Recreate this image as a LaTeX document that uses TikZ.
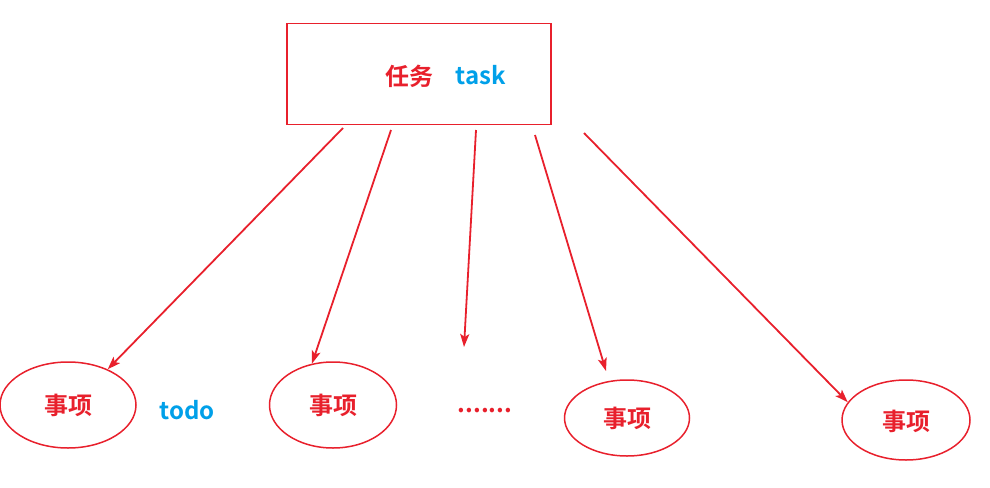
\documentclass[tikz,border=0pt]{standalone}
\usepackage{fontspec}
\newfontfamily\cjk{Noto Sans CJK SC Bold}
\usetikzlibrary{arrows.meta,positioning}
\usetikzlibrary{shapes.geometric}
\definecolor{itemred}{HTML}{E8202C}
\definecolor{tagblue}{HTML}{00A0E9}

\begin{document}
\begin{tikzpicture}[
      x=1pt,y=-1pt,
      taskbox/.style={
         rectangle,
         draw=itemred,
         line width=1.8pt,
         minimum width=264pt,
         minimum height=101pt,
         inner sep=0pt},
      itemnode/.style={
         ellipse,
         draw=itemred,
         line width=1.5pt,
         inner sep=0pt,
         text=itemred,
         font=\cjk\fontsize{24}{24}\selectfont},
      tagtext/.style={text=tagblue,font=\cjk\fontsize{24}{24}\selectfont},
      myarrow/.style={-{Stealth[length=13pt,width=9pt,inset=3pt]},draw=itemred,line width=1.8pt}
      ]
      \useasboundingbox (0,0) rectangle (990,487);
      \node[taskbox] (task) at (419,74) {};
      \node[text=itemred,font=\cjk\fontsize{24}{24}\selectfont] (tasklbl) at (409,76) {任务};
      \node[tagtext] (tasktag) at (481,75) {task};
      \node[itemnode,minimum width=136pt,minimum height=86pt] (e1) at (68,405) {事项};
      \node[tagtext] (todo) at (187,410) {todo};
      \node[itemnode,minimum width=127pt,minimum height=86pt] (e2) at (333,405) {事项};
      \node[text=itemred,font=\cjk\fontsize{24}{24}\selectfont] (dots) at (485,411) {.......};
      \node[itemnode,minimum width=125pt,minimum height=76pt] (e3) at (627,418) {事项};
      \node[itemnode,minimum width=128pt,minimum height=80pt,text depth=-8pt] (e4) at (906,420) {事项};

      % arrow start points below the task box
      \coordinate (s1) at (343,128);
      \coordinate (s2) at (391,130);
      \coordinate (s3) at (476,130);
      \coordinate (s4) at (535,135);
      \coordinate (s5) at (584,133);
      % free arrow ends
      \coordinate (t3) at (464,347);
      \coordinate (t4) at (606,371);

    \foreach \i/\j in {% start/end
      s1/e1.42,
      s2/e2.117,
      s3/t3,
      s4/t4,
      s5/e4.163}
       \draw [myarrow] (\i) -- (\j);

     \end{tikzpicture}
\end{document}
